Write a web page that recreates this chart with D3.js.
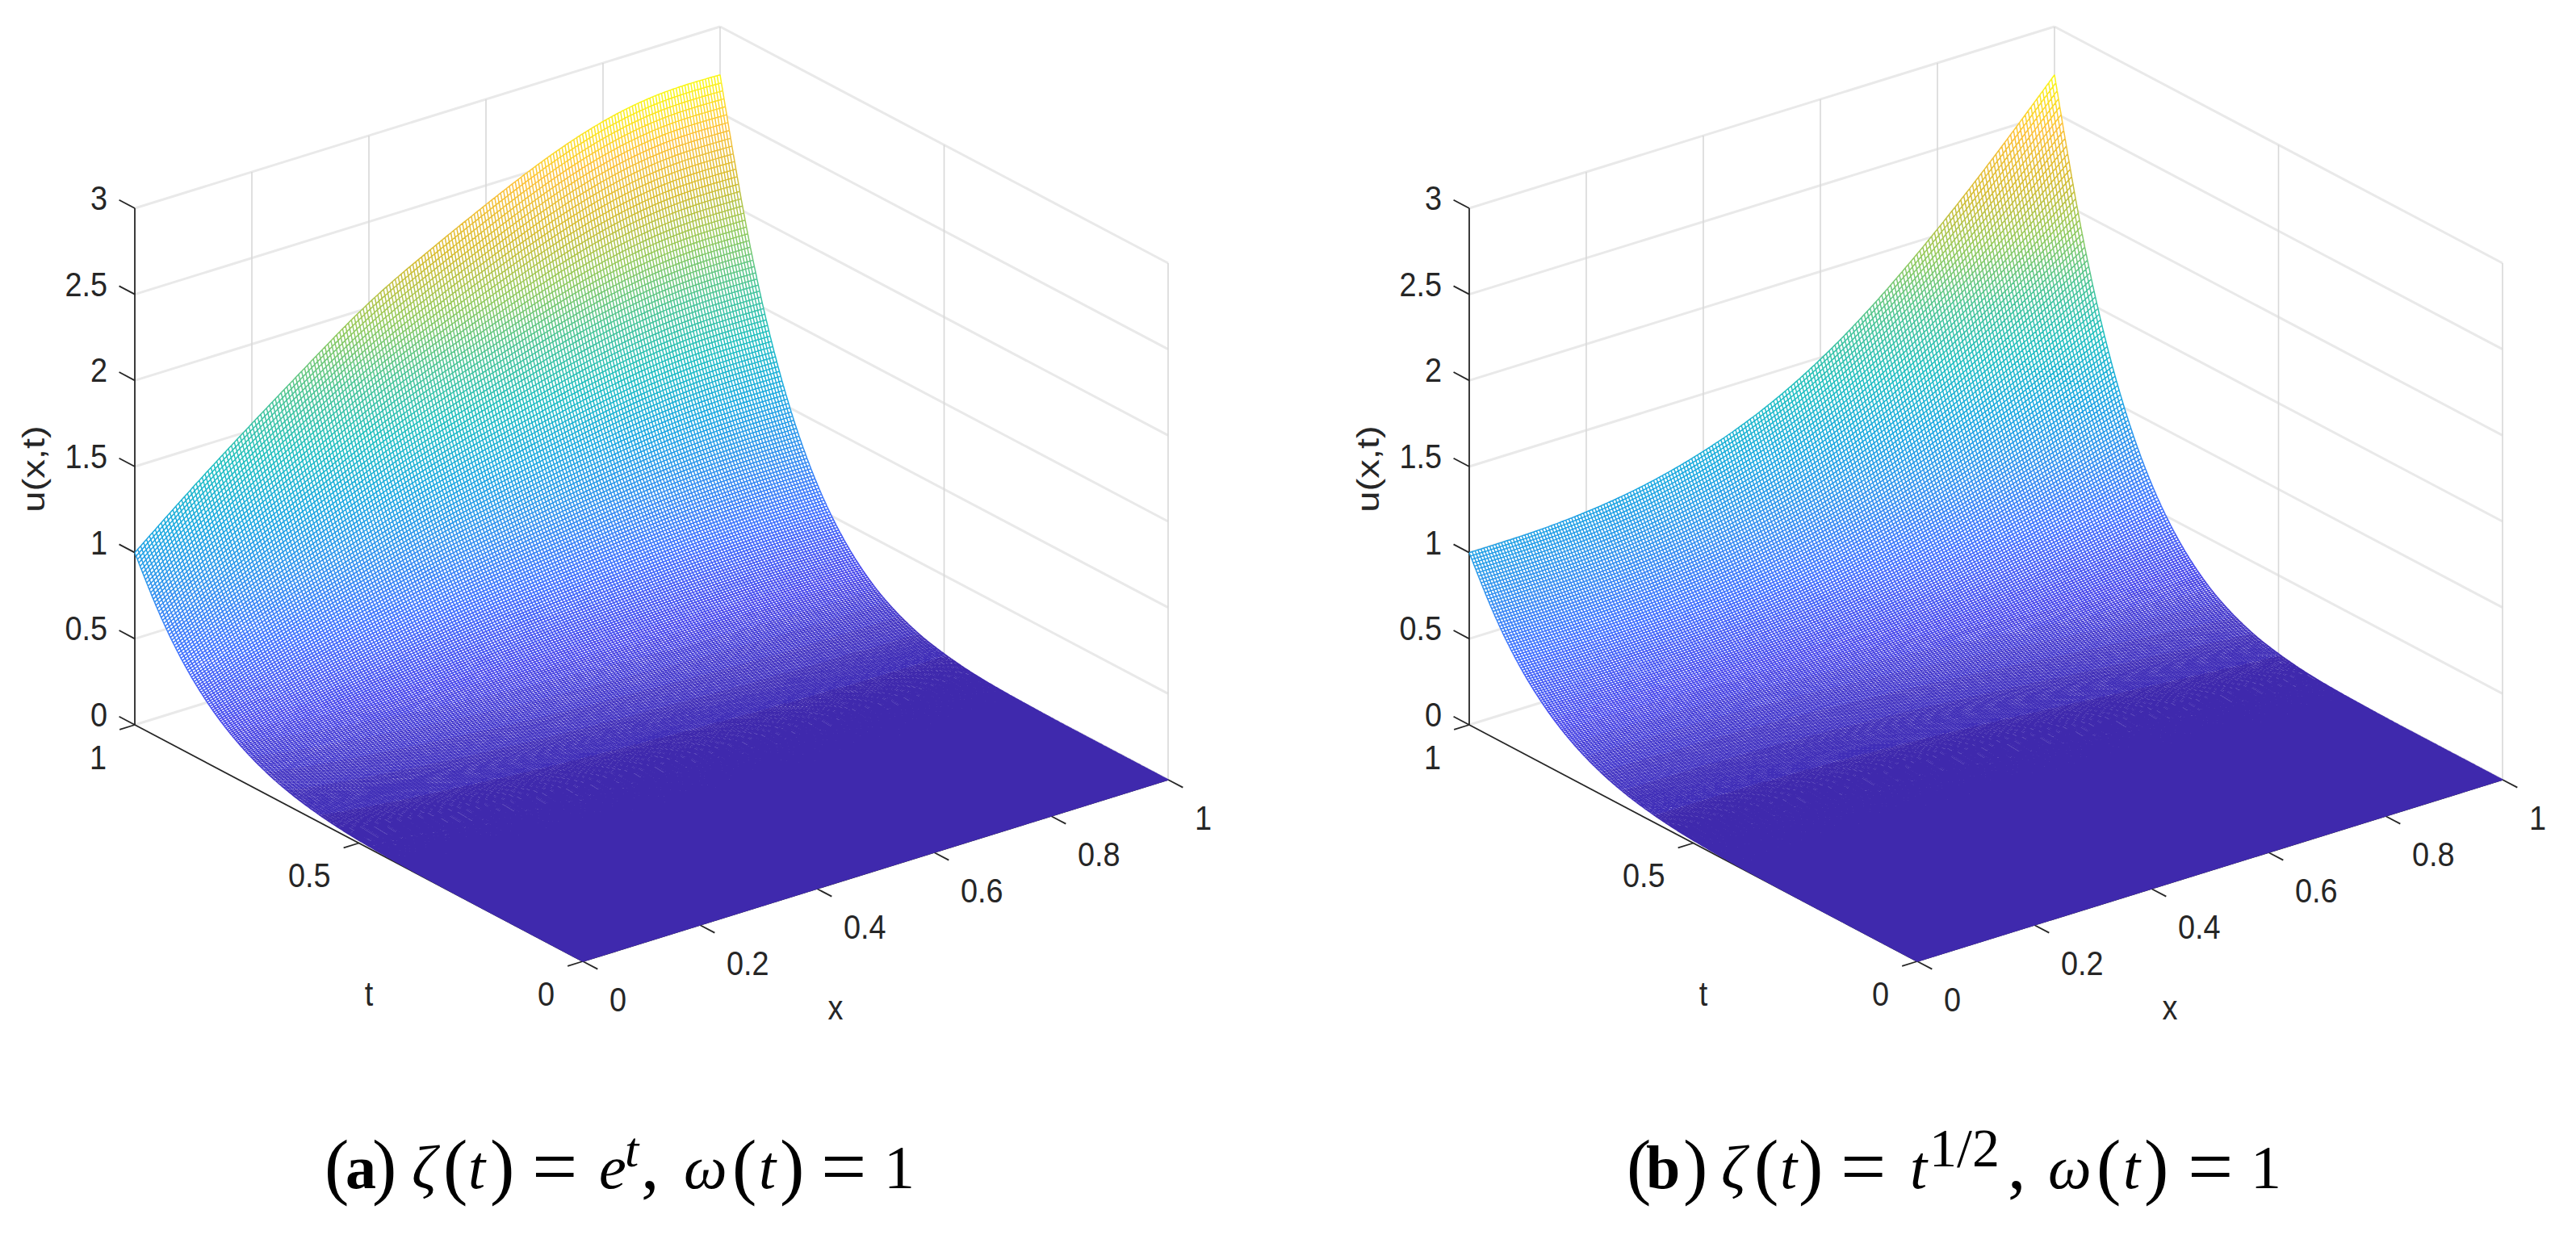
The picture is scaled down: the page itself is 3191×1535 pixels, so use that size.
<!DOCTYPE html>
<html>
<head>
<meta charset="utf-8">
<script src="https://cdn.jsdelivr.net/npm/d3@7"></script>
<style>
  html, body { margin: 0; background: #fff; }
  text { font-family: "Liberation Sans", Arial, sans-serif; fill: #262626; }
  .cap { font-family: "Liberation Serif", serif; fill: #000; }
</style>
</head>
<body>
<svg id="chart" width="3191" height="1535"></svg>
<script>
// values
// u along the t=1 edge, one value per 0.1 of x
var edgeA = [1.00, 1.28, 1.54, 1.79, 2.04, 2.22, 2.39, 2.55, 2.67, 2.73, 2.72];
var edgeB = [1.00, 1.00, 1.02, 1.07, 1.16, 1.29, 1.48, 1.73, 2.03, 2.36, 2.72];
// how u falls off towards t=0 (share of the t=1 value), one value per 0.05 of t
var falloff = [0, 0, 0, 0, 0, 0, 0.001, 0.002, 0.004, 0.008, 0.016, 0.027, 0.047, 0.075,
    0.118, 0.178, 0.262, 0.377, 0.531, 0.735, 1];

var xTicks = [0, 0.2, 0.4, 0.6, 0.8, 1];
var tTicks = [0, 0.5, 1];
var zTicks = [0, 0.5, 1, 1.5, 2, 2.5, 3];

var parulaStops = [0, 0.1, 0.2, 0.3, 0.4, 0.5, 0.6, 0.7, 0.8, 0.9, 1];
var parulaColors = ["#3e26a8", "#4746eb", "#3e70fe", "#2f90ee", "#1aa8e0", "#1fbfc0",
    "#4ac596", "#91ca5e", "#d6bd33", "#fdc13a", "#f9fb15"];

// glyph, x, shift down, size, weight, style
var captionA = [
    ["(", 402, 3, 91, "normal", "normal"], ["a", 428, 0, 76, "bold", "normal"], [")", 461, 3, 91, "normal", "normal"],
    ["ζ", 510, 0, 76, "normal", "italic"], ["(", 549, 3, 91, "normal", "normal"], ["t", 580, 0, 76, "normal", "italic"],
    [")", 607, 3, 91, "normal", "normal"], ["=", 659, 7, 100, "normal", "normal"], ["e", 742, 0, 76, "normal", "italic"],
    ["t", 774, -27, 62, "normal", "italic"], [",", 794, 0, 90, "normal", "normal"], ["ω", 847, 0, 76, "normal", "italic"],
    ["(", 907, 3, 91, "normal", "normal"], ["t", 940, 0, 76, "normal", "italic"], [")", 966, 3, 91, "normal", "normal"],
    ["=", 1017, 7, 100, "normal", "normal"], ["1", 1095, 0, 76, "normal", "normal"]
];
var captionB = [
    ["(", 2015, 3, 91, "normal", "normal"], ["b", 2039, 0, 76, "bold", "normal"], [")", 2085, 3, 91, "normal", "normal"],
    ["ζ", 2132, 0, 76, "normal", "italic"], ["(", 2173, 3, 91, "normal", "normal"], ["t", 2205, 0, 76, "normal", "italic"],
    [")", 2228, 3, 91, "normal", "normal"], ["=", 2280, 7, 100, "normal", "normal"], ["t", 2366, 0, 76, "normal", "italic"],
    ["1/2", 2390, -27, 68, "normal", "normal"], [",", 2487, 0, 90, "normal", "normal"], ["ω", 2537, 0, 76, "normal", "italic"],
    ["(", 2597, 3, 91, "normal", "normal"], ["t", 2630, 0, 76, "normal", "italic"], [")", 2656, 3, 91, "normal", "normal"],
    ["=", 2710, 7, 100, "normal", "normal"], ["1", 2788, 0, 76, "normal", "normal"]
];

// orthographic box of one panel, as measured on the left one
var origin = {x: 722, y: 1191};
var xRun = d3.scaleLinear().domain([0, 1]).range([0, 725]),
    xRise = d3.scaleLinear().domain([0, 1]).range([0, -225]),
    tRun = d3.scaleLinear().domain([0, 1]).range([0, -555]),
    tRise = d3.scaleLinear().domain([0, 1]).range([0, -293]),
    zRise = d3.scaleLinear().domain([0, 3]).range([0, -640]);

function px(x, t) { return origin.x + xRun(x) + tRun(t); }
function py(x, t, z) { return origin.y + xRise(x) + tRise(t) + zRise(z); }

var parula = d3.scaleLinear().domain(parulaStops).range(parulaColors).interpolate(d3.interpolateRgb);
var svg = d3.select("#chart");

// the mesh lines between the read values are resampled with d3's spline
var NX = 200, NT = 340, LEVELS = 64;

function drawPanel(edge, dx, caption) {
    var g = svg.append("g").attr("transform", "translate(" + dx + ",0)");
    var edgeAt = d3.interpolateBasis(edge), fallAt = d3.interpolateBasis(falloff);
    var xs = d3.range(NX + 1).map((i) => i / NX),
        ts = d3.range(NT + 1).map((j) => j / NT);
    var ex = xs.map(edgeAt), ft = ts.map((t) => Math.max(0, fallAt(t)));
    var uMax = d3.max(edge);

    // back walls
    var wallLines = [];
    zTicks.forEach((z) => {
        wallLines.push({w: 3, c: "#e9e9e9", a: [0, 1, z], b: [1, 1, z]});
        wallLines.push({w: 3, c: "#e9e9e9", a: [1, 1, z], b: [1, 0, z]});
    });
    xTicks.slice(1).forEach((x) => wallLines.push({w: 1.6, c: "#d8d8d8", a: [x, 1, 0], b: [x, 1, 3]}));
    tTicks.slice(0, 2).forEach((t) => wallLines.push({w: 1.6, c: "#d8d8d8", a: [1, t, 0], b: [1, t, 3]}));
    xTicks.slice(1, 5).forEach((x) => wallLines.push({w: 1.6, c: "#e9e9e9", a: [x, 0, 0], b: [x, 1, 0]}));
    wallLines.push({w: 1.6, c: "#e9e9e9", a: [0, 0.5, 0], b: [1, 0.5, 0]});

    g.selectAll("line.wall").data(wallLines).enter().append("line")
        .attr("class", "wall")
        .attr("x1", (d) => px(d.a[0], d.a[1])).attr("y1", (d) => py(d.a[0], d.a[1], d.a[2]))
        .attr("x2", (d) => px(d.b[0], d.b[1])).attr("y2", (d) => py(d.b[0], d.b[1], d.b[2]))
        .attr("stroke", (d) => d.c).attr("stroke-width", (d) => d.w);

    // axes and ticks
    var axisLines = [
        {a: [0, 1, 0], b: [0, 1, 3]},
        {a: [0, 0, 0], b: [0, 1, 0]},
        {a: [0, 0, 0], b: [1, 0, 0]}
    ];
    zTicks.forEach((z) => axisLines.push({a: [0, 1, z], b: [0, 1.035, z]}));
    tTicks.forEach((t) => axisLines.push({a: [0, t, 0], b: [-0.026, t, 0]}));
    xTicks.forEach((x) => axisLines.push({a: [x, 0, 0], b: [x, -0.033, 0]}));

    g.selectAll("line.axis").data(axisLines).enter().append("line")
        .attr("class", "axis")
        .attr("x1", (d) => px(d.a[0], d.a[1])).attr("y1", (d) => py(d.a[0], d.a[1], d.a[2]))
        .attr("x2", (d) => px(d.b[0], d.b[1])).attr("y2", (d) => py(d.b[0], d.b[1], d.b[2]))
        .attr("stroke", "#262626").attr("stroke-width", 1.8);

    // white underlay so the mesh hides the walls, like MATLAB's mesh
    var outline = [];
    xs.forEach((x, i) => outline.push([px(x, 1), py(x, 1, ex[i] * ft[NT])]));
    ts.slice().reverse().forEach((t, j) => outline.push([px(1, t), py(1, t, ex[NX] * ft[NT - j])]));
    xs.slice().reverse().forEach((x, i) => outline.push([px(x, 0), py(x, 0, ex[NX - i] * ft[0])]));
    ts.forEach((t, j) => outline.push([px(0, t), py(0, t, ex[0] * ft[j])]));
    g.append("path").attr("d", d3.line()(outline)).attr("fill", "#fff");

    // mesh, one path per colormap level
    var buckets = d3.range(LEVELS).map(() => []);
    var pos = xs.map((x, i) => ts.map((t, j) => {
        var z = ex[i] * ft[j];
        return {s: px(x, t).toFixed(1) + " " + py(x, t, z).toFixed(1), z: z};
    }));
    function seg(a, b) {
        var k = Math.min(LEVELS - 1, Math.floor((a.z + b.z) / 2 / uMax * LEVELS));
        buckets[k].push("M" + a.s + "L" + b.s);
    }
    for (var i = 0; i <= NX; i++) {
        for (var j = 0; j <= NT; j++) {
            if (i < NX) seg(pos[i][j], pos[i + 1][j]);
            if (j < NT) seg(pos[i][j], pos[i][j + 1]);
        }
    }
    g.selectAll("path.mesh").data(buckets.map((b, k) => ({d: b.join(""), k: k}))).enter().append("path")
        .attr("class", "mesh")
        .attr("d", (d) => d.d)
        .attr("fill", "none")
        .attr("stroke", (d) => parula((d.k + 0.5) / LEVELS))
        .attr("stroke-width", 1.5);

    // tick labels
    function label(x, y, str, anchor) {
        g.append("text")
            .attr("transform", "translate(" + x + "," + y + ") scale(0.88,1)")
            .attr("text-anchor", anchor)
            .attr("dominant-baseline", "central")
            .attr("font-size", 43)
            .text(str);
    }
    zTicks.forEach((z) => label(px(0, 1) - 34, py(0, 1, z) - 13, z, "end"));
    tTicks.forEach((t) => label(px(0, t) - 35, py(0, t, 0) + 40, t, "end"));
    xTicks.forEach((x) => label(px(x, 0) + 33, py(x, 0, 0) + 47, x, "start"));

    label(457, 1231, "t", "middle");
    label(1035, 1248, "x", "middle");
    g.append("text")
        .attr("transform", "translate(41,581) rotate(-90) scale(1.1,0.92)")
        .attr("text-anchor", "middle")
        .attr("dominant-baseline", "central")
        .attr("font-size", 43)
        .text("u(x,t)");

    // caption sits in page coordinates
    var cap = svg.append("text").attr("class", "cap").attr("y", 1472);
    cap.selectAll("tspan").data(caption).enter().append("tspan")
        .attr("x", (d) => d[1])
        .attr("y", (d) => 1472 + d[2])
        .attr("font-size", (d) => d[3])
        .attr("font-weight", (d) => d[4])
        .attr("font-style", (d) => d[5])
        .text((d) => d[0]);
}

drawPanel(edgeA, 0, captionA);
drawPanel(edgeB, 1653, captionB);
</script>
</body>
</html>
